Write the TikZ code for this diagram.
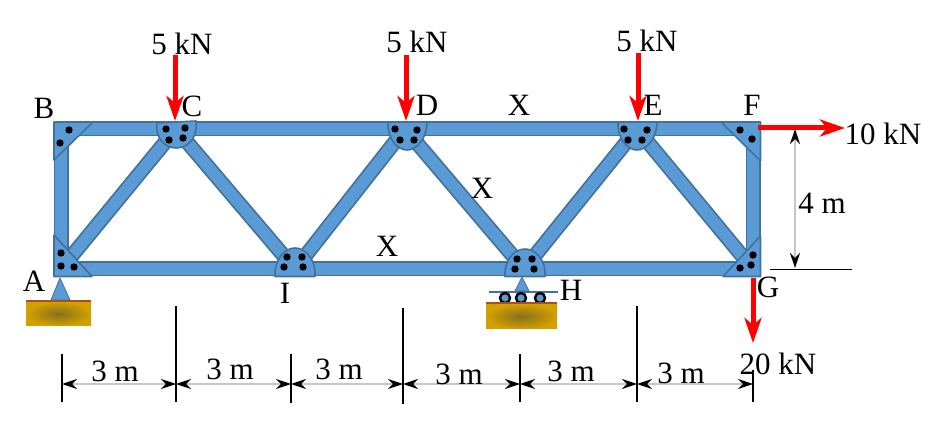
\documentclass[tikz,border=0pt]{standalone}
\usepackage{fontspec}
\setmainfont{Liberation Serif}
\usetikzlibrary{arrows.meta}
\definecolor{steelblue}{HTML}{5B9BD5}
\definecolor{steeledge}{HTML}{41719C}
\definecolor{groundgold}{HTML}{D4A000}
\definecolor{grounddark}{HTML}{85701A}
\definecolor{groundline}{HTML}{A5501E}
\tikzset{
	txt/.style={font=\fontsize{31}{33}\selectfont,inner sep=0pt},
	outer/.style={draw=steeledge,fill=steelblue,line width=1.6pt,line join=round},
	load/.style={red,line width=5pt,-{Stealth[length=25pt,width=17pt,inset=7pt]}},
	dimline/.style={black!22,line width=1.3pt,{Stealth[black,length=15pt,width=10pt,inset=5pt]}-{Stealth[black,length=15pt,width=10pt,inset=5pt]}},
	ticklight/.style={black,line width=1.3pt},
	tickheavy/.style={black,line width=2.6pt},
	rivet/.style={black},
	roller/.style={black,fill=steelblue,line width=2.4pt},
	ground/.style={inner color=grounddark,outer color=groundgold}
}
\newcommand{\trussmember}[2]{
	\draw[steeledge,line width=15pt] (#1) -- (#2);
	\draw[steelblue,line width=11.5pt] (#1) -- (#2);
}
\begin{document}
\begin{tikzpicture}[x=1pt,y=-1pt]
\useasboundingbox (0,0) rectangle (931,427);
% joints
\coordinate (A) at (61,269);
\coordinate (B) at (61,129);
\coordinate (C) at (176,129);
\coordinate (D) at (405,129);
\coordinate (E) at (637,129);
\coordinate (F) at (753,129);
\coordinate (G) at (753,269);
\coordinate (H) at (524,269);
\coordinate (I) at (295,269);
% members
\trussmember{A}{C}
\trussmember{C}{I}
\trussmember{I}{D}
\trussmember{D}{H}
\trussmember{H}{E}
\trussmember{E}{G}
\trussmember{B}{F}
\trussmember{A}{G}
\trussmember{A}{B}
\trussmember{F}{G}
% gusset plates
\draw[outer] (54,122) -- (93,122) -- (54,160) -- cycle;
\draw[outer] (54,235) -- (92,276.5) -- (54,276.5) -- cycle;
\draw[outer] (721,122) -- (760.5,122) -- (760.5,161) -- cycle;
\draw[outer] (760.5,236) -- (760.5,276.5) -- (723,276.5) -- cycle;
\draw[outer] (157,123) -- (196,121) .. controls (198,138) and (188,148) .. (176,148) .. controls (165,148) and (155,138) .. (157,123) -- cycle;
\draw[outer] (388,122) -- (427,122) .. controls (427,138) and (417,150) .. (407,150) .. controls (397,150) and (387,138) .. (388,122) -- cycle;
\draw[outer] (618,122) -- (657,122) .. controls (657,138) and (647,150) .. (637,150) .. controls (627,150) and (617,138) .. (618,122) -- cycle;
\draw[outer] (275,276.5) -- (315,276.5) .. controls (316,259) and (305,248) .. (295,248) .. controls (285,248) and (274,259) .. (275,276.5) -- cycle;
\draw[outer] (505,276.5) -- (545,276.5) .. controls (546,259) and (535,249) .. (525,249) .. controls (515,249) and (504,259) .. (505,276.5) -- cycle;
% rivets
\fill[rivet] (69,130) circle(3.7pt);
\fill[rivet] (60,143) circle(3.7pt);
\fill[rivet] (166,129) circle(3.7pt);
\fill[rivet] (185,128) circle(3.7pt);
\fill[rivet] (169,140) circle(3.7pt);
\fill[rivet] (183,138) circle(3.7pt);
\fill[rivet] (61,253) circle(3.7pt);
\fill[rivet] (61,266) circle(3.7pt);
\fill[rivet] (74,267) circle(3.7pt);
\fill[rivet] (395,129) circle(3.7pt);
\fill[rivet] (417,130) circle(3.7pt);
\fill[rivet] (400,140) circle(3.7pt);
\fill[rivet] (414,140) circle(3.7pt);
\fill[rivet] (624,129) circle(3.7pt);
\fill[rivet] (647,130) circle(3.7pt);
\fill[rivet] (628,140) circle(3.7pt);
\fill[rivet] (642,140) circle(3.7pt);
\fill[rivet] (287,257) circle(3.7pt);
\fill[rivet] (302,257) circle(3.7pt);
\fill[rivet] (284,267) circle(3.7pt);
\fill[rivet] (303,267) circle(3.7pt);
\fill[rivet] (517,259) circle(3.7pt);
\fill[rivet] (532,259) circle(3.7pt);
\fill[rivet] (515,269) circle(3.7pt);
\fill[rivet] (534,269) circle(3.7pt);
\fill[rivet] (740,130) circle(3.7pt);
\fill[rivet] (752,139) circle(3.7pt);
\fill[rivet] (753,255) circle(3.7pt);
\fill[rivet] (751,265) circle(3.7pt);
\fill[rivet] (740,268) circle(3.7pt);
% support at A
\draw[outer,line width=0.8pt] (60,278) -- (70,300) -- (51,300) -- cycle;
\shade[ground] (26,302) rectangle (91,326);
\draw[groundline,line width=1.8pt] (26,301) -- (91,301);
% support at H
\draw[outer,line width=0.8pt] (522,277) -- (529,291) -- (515,291) -- cycle;
\draw[steeledge,line width=1.8pt] (489,292) -- (558,292);
\draw[roller] (505,298) circle(5pt);
\draw[roller] (521,298) circle(5pt);
\draw[roller] (540,298) circle(5pt);
\shade[ground] (486,304) rectangle (557,329);
\draw[groundline,line width=1.8pt] (486,303) -- (557,303);
% loads
\coordinate (c1) at (175,55);
\coordinate (c2) at (175,121);
\coordinate (d1) at (406,55);
\coordinate (d2) at (406,121);
\coordinate (e1) at (638,53);
\coordinate (e2) at (638,121);
\coordinate (f1) at (758,128);
\coordinate (f2) at (845,128);
\coordinate (g1) at (753,278);
\coordinate (g2) at (753,343);
\draw[load] (c1) -- (c2);
\draw[load] (d1) -- (d2);
\draw[load] (e1) -- (e2);
\draw[load] (f1) -- (f2);
\draw[load] (g1) -- (g2);
% dimension ticks
\coordinate (t0a) at (62,354);
\coordinate (t0) at (62,384);
\coordinate (t0b) at (62,402);
\coordinate (t1a) at (176,306);
\coordinate (t1) at (176,384);
\coordinate (t1b) at (176,402);
\coordinate (t2a) at (291,354);
\coordinate (t2) at (291,384);
\coordinate (t2b) at (291,403);
\coordinate (t3a) at (403,308);
\coordinate (t3) at (403,384);
\coordinate (t3b) at (403,404);
\coordinate (t4a) at (520,354);
\coordinate (t4) at (520,384);
\coordinate (t4b) at (520,402);
\coordinate (t5a) at (637,306);
\coordinate (t5) at (637,384);
\coordinate (t5b) at (637,402);
\coordinate (t6a) at (753,370);
\coordinate (t6) at (753,384);
\coordinate (t6b) at (753,402);
\draw[dimline] (t0) -- (t1);
\draw[dimline] (t1) -- (t2);
\draw[dimline] (t2) -- (t3);
\draw[dimline] (t3) -- (t4);
\draw[dimline] (t4) -- (t5);
\draw[dimline] (t5) -- (t6);
\draw[ticklight] (t0a) -- (t0b);
\draw[tickheavy] (t1a) -- (t1b);
\draw[ticklight] (t2a) -- (t2b);
\draw[tickheavy] (t3a) -- (t3b);
\draw[ticklight] (t4a) -- (t4b);
\draw[ticklight] (t5a) -- (t5b);
\draw[ticklight] (t6a) -- (t6b);
% height dimension
\coordinate (h1) at (795,129);
\coordinate (h2) at (795,268);
\coordinate (hl) at (770,269);
\coordinate (hr) at (852,269);
\draw[dimline] (h1) -- (h2);
\draw[black,line width=0.8pt] (hl) -- (hr);
% labels
\node[txt] (lc) at (182,44) {5 kN};
\node[txt] (ld) at (417,42) {5 kN};
\node[txt] (le) at (647,41) {5 kN};
\node[txt] (nb) at (44,108) {B};
\node[txt] (nc) at (192,106) {C};
\node[txt] (nd) at (427,105) {D};
\node[txt] (xt) at (519,105) {X};
\node[txt] (ne) at (653,105) {E};
\node[txt] (nf) at (752,105) {F};
\node[txt] (xd) at (482,188) {X};
\node[txt] (xb) at (387,246) {X};
\node[txt] (na) at (34,281) {A};
\node[txt] (ni) at (285,293) {I};
\node[txt] (nh) at (571,290) {H};
\node[txt] (ng) at (768,287) {G};
\node[txt] (lf) at (883,134) {10 kN};
\node[txt] (lh) at (822,203) {4 m};
\node[txt] (lg) at (778,364) {20 kN};
\node[txt] (s1) at (115,371) {3 m};
\node[txt] (s2) at (230,369) {3 m};
\node[txt] (s3) at (339,369) {3 m};
\node[txt] (s4) at (459,374) {3 m};
\node[txt] (s5) at (571,371) {3 m};
\node[txt] (s6) at (681,373) {3 m};
\end{tikzpicture}
\end{document}
